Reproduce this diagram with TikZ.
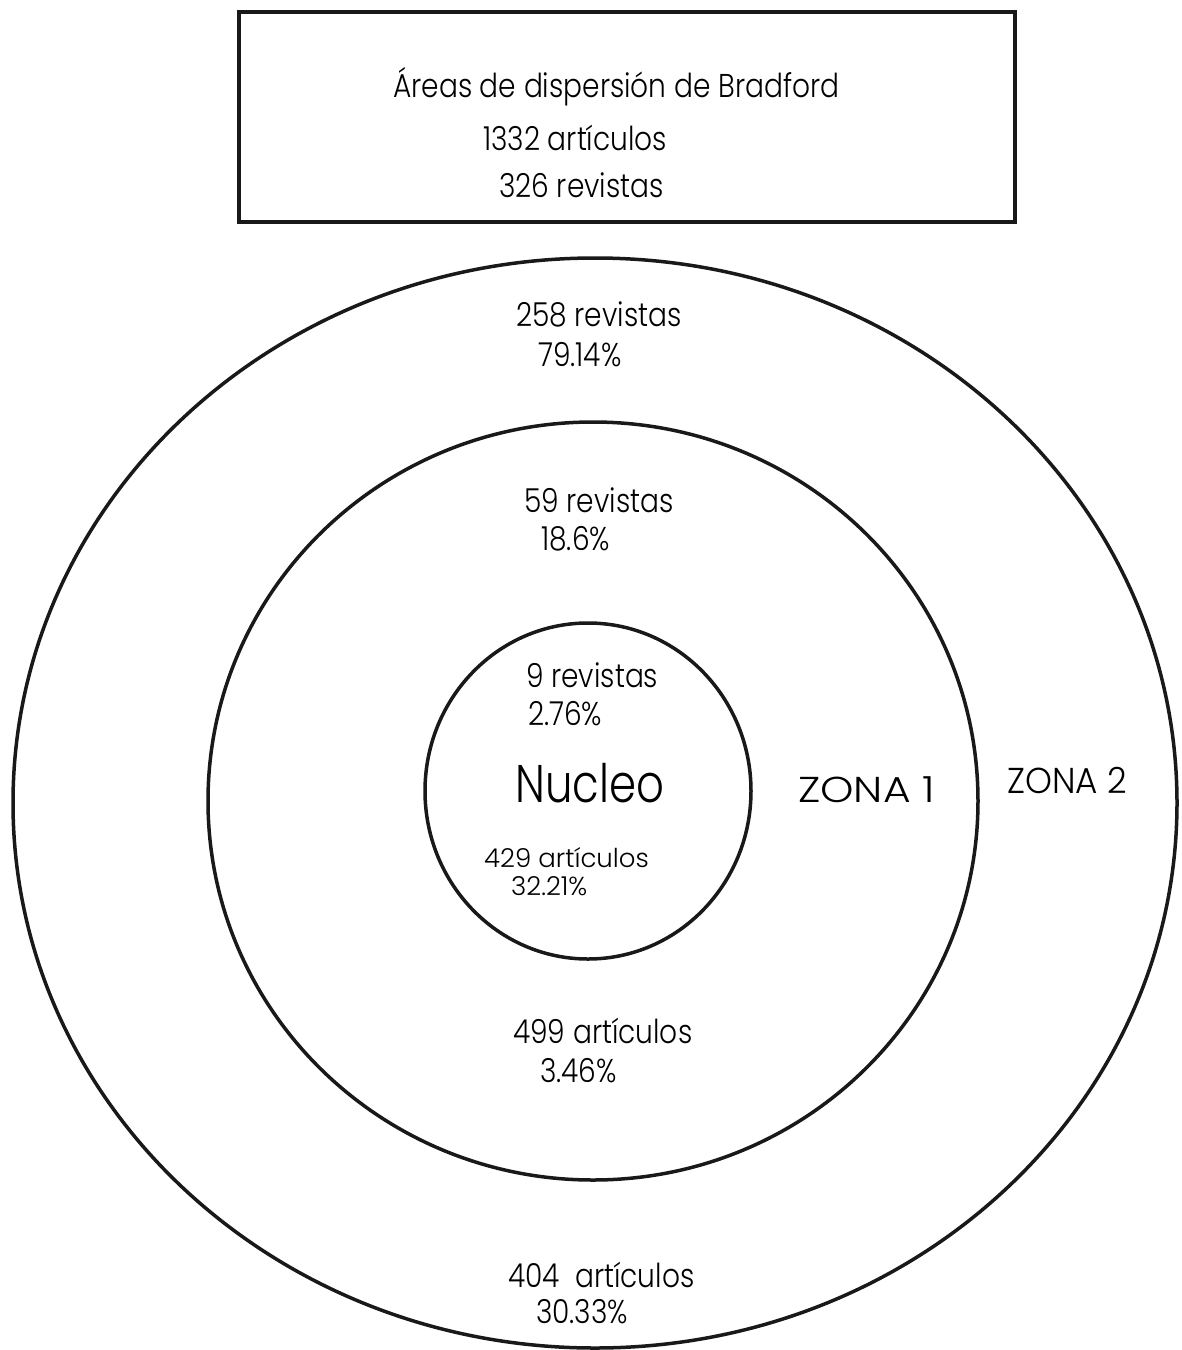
\documentclass[tikz,border=0pt]{standalone}
\usepackage{fontspec}
\setmainfont{Poppins}[UprightFont=* Light, FakeStretch=0.85]
\newfontfamily\anchafont{Poppins}[UprightFont=* Light]
\newfontfamily\zonafont{Poppins}[UprightFont=* Light, FakeStretch=1.18]
\newfontfamily\zonadosfont{Poppins}[UprightFont=* Light, FakeStretch=0.95]
\newfontfamily\nucleofont{Poppins}[UprightFont=* Light, FakeStretch=0.82]
\tikzset{zona/.style={line width=3.5pt, black!90},
         texto/.style={anchor=base west, inner sep=0pt, font=\fontsize{33}{38}\selectfont},
         chico/.style={anchor=base west, inner sep=0pt, font=\anchafont\fontsize{26}{30}\selectfont},
         rotulo/.style={anchor=base west, inner sep=0pt, font=\zonafont\fontsize{36}{40}\selectfont}}

\begin{document}
\begin{tikzpicture}[x=1pt, y=-1pt]

    \useasboundingbox (0,0) rectangle (1182,1350);

    % recuadro del titulo
    \draw [line width=3.5pt, black!90] (239,12) rectangle (1015,222);
    \node[texto] (titulo) at (393,97) {Áreas de dispersión de Bradford};
    \node[texto] (totart) at (483,150) {1332 artículos};
    \node[texto] (totrev) at (499,197) {326 revistas};

    % zonas
    \draw [zona] (595,803) ellipse (582 and 545);
    \draw [zona] (593,801) ellipse (385 and 379);
    \draw [zona] (588,791) ellipse (163 and 168);

    \node[texto] (rev2) at (516,326) {258 revistas};
    \node[texto] (por2) at (538,366) {79.14\%};
    \node[texto] (rev1) at (524,512) {59 revistas};
    \node[texto] (por1) at (541,550) {18.6\%};
    \node[texto] (rev0) at (526,687) {9 revistas};
    \node[texto] (por0) at (528,725) {2.76\%};

    \node[anchor=base west, inner sep=0pt, font=\nucleofont\fontsize{53}{58}\selectfont] (nucleo) at (515,802) {Nucleo};
    \node[rotulo] (zona1) at (798,802) {ZONA 1};
    \node[rotulo, font=\zonadosfont\fontsize{36}{40}\selectfont] (zona2) at (1007,793) {ZONA 2};

    \node[chico] (art0) at (484,867) {429 artículos};
    \node[chico] (pa0) at (511,895) {32.21\%};
    \node[texto] (art1) at (513,1043) {499 artículos};
    \node[texto] (pa1) at (540,1082) {3.46\%};
    \node[texto] (art2) at (508,1287) {404\ \ artículos};
    \node[texto] (pa2) at (536,1323) {30.33\%};

\end{tikzpicture}
\end{document}
